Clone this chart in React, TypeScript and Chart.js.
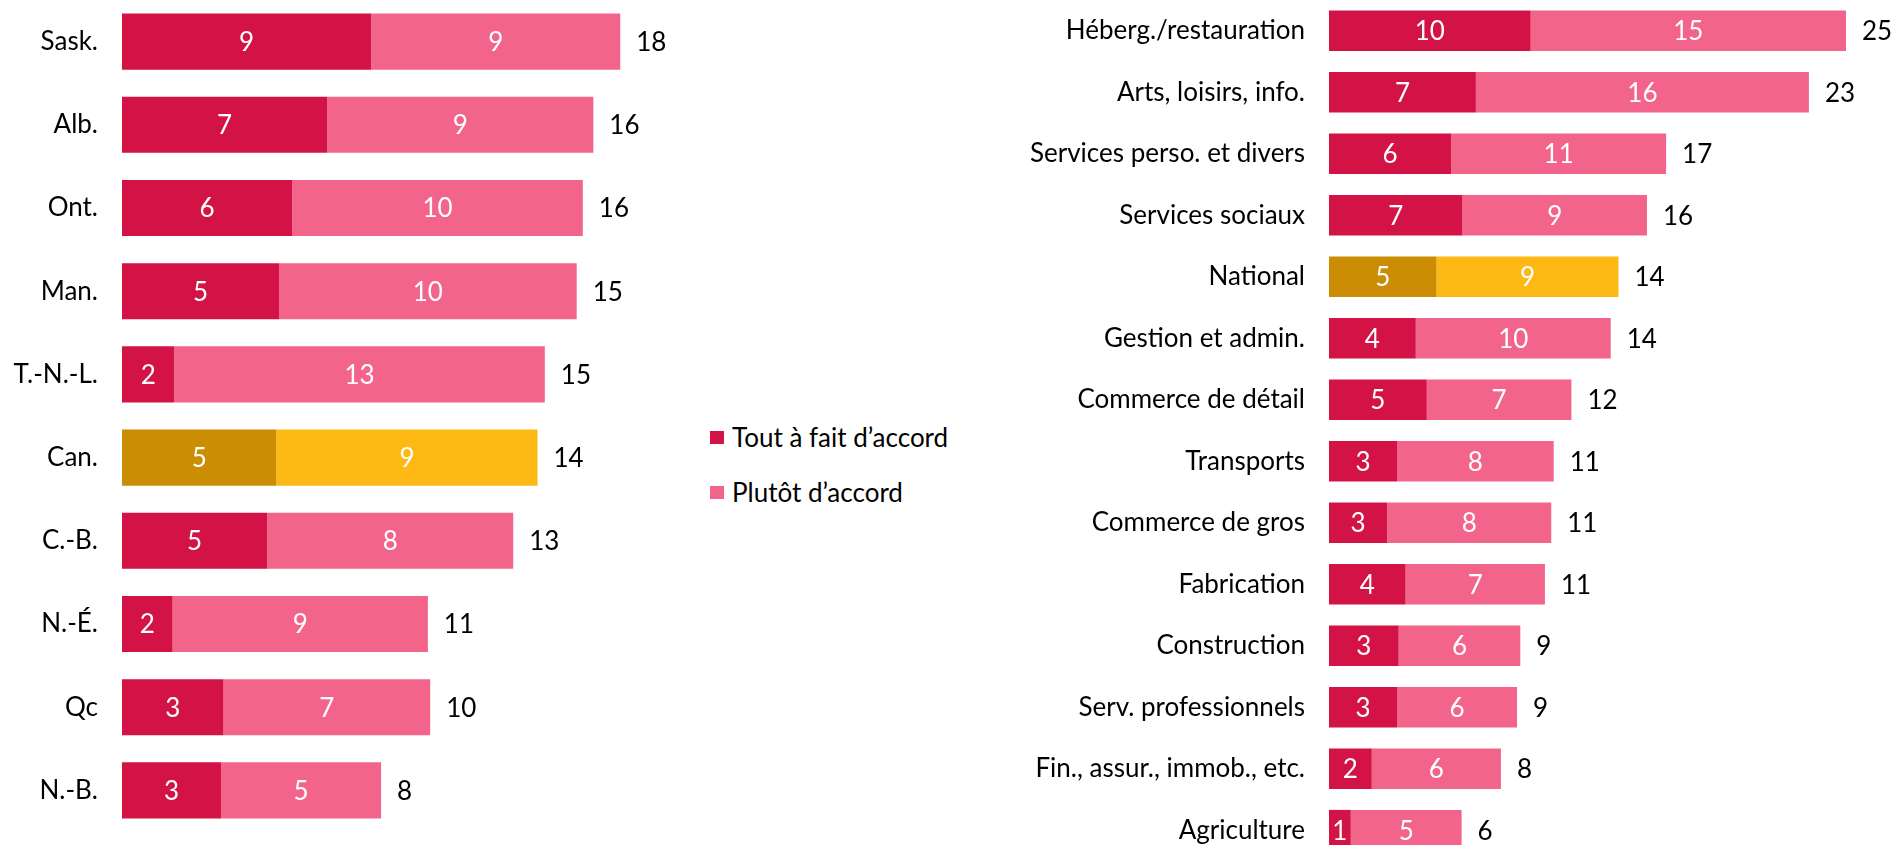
import React, { useEffect, useRef } from "react";
import { Chart, registerables } from "chart.js";

Chart.register(...registerables);

// ---------- Data ----------
const provinceCategories = ["Sask.", "Alb.", "Ont.", "Man.", "T.-N.-L.", "Can.", "C.-B.", "N.-É.", "Qc", "N.-B."];
const provinceStrongly = [8.52, 7.02, 5.82, 5.37, 1.79, 5.28, 4.97, 1.73, 3.47, 3.39];
const provinceSomewhat = [8.52, 9.1, 9.94, 10.18, 12.67, 8.93, 8.41, 8.73, 7.07, 5.47];

const industryCategories = [
  "Héberg./restauration",
  "Arts, loisirs, info.",
  "Services perso. et divers",
  "Services sociaux",
  "National",
  "Gestion et admin.",
  "Commerce de détail",
  "Transports",
  "Commerce de gros",
  "Fabrication",
  "Construction",
  "Serv. professionnels",
  "Fin., assur., immob., etc.",
  "Agriculture",
];
const industryStrongly = [9.9, 7.21, 6.0, 6.55, 5.28, 4.26, 4.8, 3.34, 2.86, 3.76, 3.42, 3.34, 2.1, 1.07];
const industrySomewhat = [15.48, 16.35, 10.55, 9.06, 8.93, 9.57, 7.1, 7.69, 8.05, 6.84, 5.97, 5.89, 6.34, 5.44];

const seriesNames = ["Tout à fait d’accord", "Plutôt d’accord"];
const highlightCategories = ["Can.", "National"];

// ---------- Styles ----------
const FONT = "Lato, 'Open Sans', sans-serif";
const FONT_SIZE = 26;
const RED_DARK = "#D31245";
const RED_LIGHT = "#F2648A";
const GOLD_DARK = "#CA8D03";
const GOLD_LIGHT = "#FDB813";

const labelPlugin = {
  id: "barLabels",
  afterDatasetsDraw(chart: any) {
    const ctx = chart.ctx;
    ctx.save();
    ctx.font = `${FONT_SIZE}px ${FONT}`;
    ctx.textBaseline = "middle";
    const nSets = chart.data.datasets.length;
    const n = chart.data.labels.length;
    for (let i = 0; i < n; i++) {
      let total = 0;
      let lastBar: any = null;
      for (let d = 0; d < nSets; d++) {
        const meta = chart.getDatasetMeta(d);
        const bar: any = meta.data[i];
        const v = Math.round(chart.data.datasets[d].data[i]);
        total += v;
        ctx.fillStyle = "#ffffff";
        ctx.textAlign = "center";
        ctx.fillText(String(v), (bar.x + bar.base) / 2, bar.y + 1);
        lastBar = bar;
      }
      ctx.fillStyle = "#000000";
      ctx.textAlign = "left";
      ctx.fillText(String(total), lastBar.x + 16, lastBar.y + 1);
    }
    ctx.restore();
  },
};

function makeConfig(
  categories: string[],
  strongly: number[],
  somewhat: number[],
  axisWidth: number,
  xMax: number,
  barPct: number
): any {
  const c1 = categories.map((c) => (highlightCategories.includes(c) ? GOLD_DARK : RED_DARK));
  const c2 = categories.map((c) => (highlightCategories.includes(c) ? GOLD_LIGHT : RED_LIGHT));
  return {
    type: "bar",
    data: {
      labels: categories,
      datasets: [
        { label: seriesNames[0], data: strongly, backgroundColor: c1, borderWidth: 0, categoryPercentage: 1, barPercentage: barPct },
        { label: seriesNames[1], data: somewhat, backgroundColor: c2, borderWidth: 0, categoryPercentage: 1, barPercentage: barPct },
      ],
    },
    options: {
      indexAxis: "y",
      responsive: false,
      animation: false,
      devicePixelRatio: 1,
      layout: { padding: 0 },
      plugins: { legend: { display: false }, tooltip: { enabled: false }, title: { display: false } },
      scales: {
        x: { stacked: true, display: false, min: 0, max: xMax },
        y: {
          stacked: true,
          grid: { display: false, drawTicks: false },
          border: { display: false },
          ticks: { color: "#000", font: { family: FONT, size: FONT_SIZE }, padding: 24, autoSkip: false },
          afterFit: (scale: any) => {
            scale.width = axisWidth;
            scale.paddingTop = 0;
            scale.paddingBottom = 0;
          },
        },
      },
    },
    plugins: [labelPlugin],
  };
}

function BarChart(props: {
  categories: string[];
  strongly: number[];
  somewhat: number[];
  left: number;
  width: number;
  height: number;
  axisWidth: number;
  pxPerUnit: number;
  barPct: number;
}) {
  const ref = useRef<HTMLCanvasElement>(null);
  useEffect(() => {
    if (!ref.current) return;
    const xMax = (props.width - props.axisWidth) / props.pxPerUnit;
    const chart = new Chart(
      ref.current,
      makeConfig(props.categories, props.strongly, props.somewhat, props.axisWidth, xMax, props.barPct)
    );
    return () => chart.destroy();
  }, []);
  return (
    <canvas
      ref={ref}
      width={props.width}
      height={props.height}
      style={{ position: "absolute", left: props.left, top: 0, width: props.width, height: props.height }}
    />
  );
}

function LegendRow(props: { color: string; text: string; top: number }) {
  return (
    <div
      style={{
        position: "absolute",
        left: 710,
        top: props.top - 20,
        height: 40,
        display: "flex",
        alignItems: "center",
        fontFamily: FONT,
        fontSize: FONT_SIZE,
        color: "#000",
        whiteSpace: "nowrap",
      }}
    >
      <div style={{ width: 14, height: 13, background: props.color, marginRight: 8 }} />
      <span>{props.text}</span>
    </div>
  );
}

export default function App() {
  return (
    <div
      style={{
        position: "fixed",
        left: 0,
        top: 0,
        width: 1896,
        height: 845,
        overflow: "hidden",
        background: "#fff",
      }}
    >
      <BarChart
        categories={provinceCategories}
        strongly={provinceStrongly}
        somewhat={provinceSomewhat}
        left={0}
        width={700}
        height={832}
        axisWidth={122}
        pxPerUnit={29.24}
        barPct={0.674}
      />
      <LegendRow color={RED_DARK} text={seriesNames[0]} top={437} />
      <LegendRow color={RED_LIGHT} text={seriesNames[1]} top={492} />
      <BarChart
        categories={industryCategories}
        strongly={industryStrongly}
        somewhat={industrySomewhat}
        left={1000}
        width={896}
        height={861}
        axisWidth={329}
        pxPerUnit={20.37}
        barPct={0.662}
      />
    </div>
  );
}
